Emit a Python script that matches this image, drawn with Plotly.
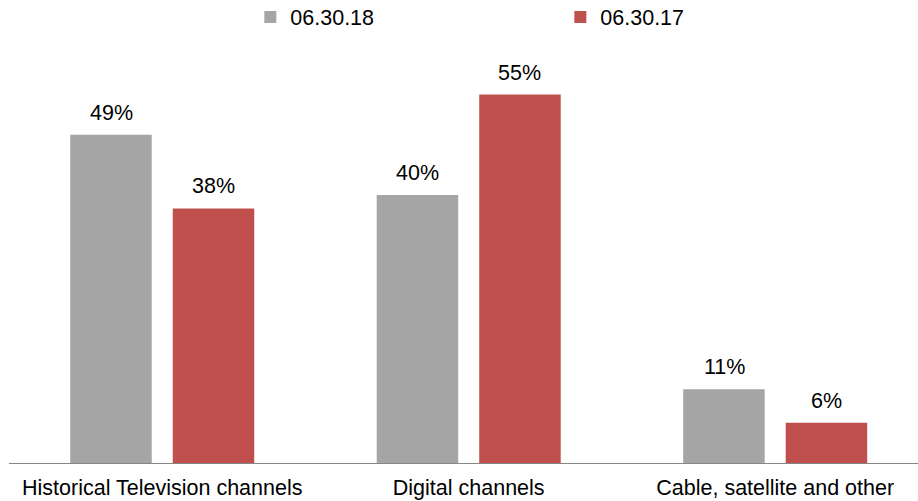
import plotly.graph_objects as go

categories = ["Historical Television channels", "Digital channels", "Cable, satellite and other"]
series_names = ["06.30.18", "06.30.17"]
values_2018 = [49, 40, 11]
values_2017 = [38, 55, 6]
colors = ["#A5A5A5", "#C0504D"]

FONT = "Liberation Sans, Arial, sans-serif"
FS = 21.5

fig = go.Figure()
for name, vals, col in zip(series_names, [values_2018, values_2017], colors):
    fig.add_trace(go.Bar(x=categories, y=vals, name=name, marker=dict(color=col, line=dict(width=0))))

# value labels
slot_px = 51
for i, (vals, sgn) in enumerate(zip([values_2018, values_2017], [-1, 1])):
    for c, v in zip(categories, vals):
        fig.add_annotation(x=c, y=v, text=f"{v}%", showarrow=False, xshift=sgn * slot_px,
                           yanchor="bottom", yshift=8, font=dict(family=FONT, size=FS, color="#000000"))

fig.update_layout(
    width=918, height=501,
    margin=dict(l=9, r=0, t=62, b=38, autoexpand=False),
    paper_bgcolor="white", plot_bgcolor="white",
    barmode="group", bargap=0.331, bargroupgap=0.205,
    font=dict(family=FONT, size=FS, color="#000000"),
    showlegend=True,
    legend=dict(orientation="h", x=0.2655, xanchor="left", y=1.112, yanchor="middle",
                entrywidth=265, entrywidthmode="pixels", font=dict(size=FS),
                bgcolor="rgba(0,0,0,0)"),
    xaxis=dict(range=[-0.5, 2.466], showline=True, linecolor="#868686", linewidth=1,
               ticks="", showgrid=False, zeroline=False, ticklabelstandoff=5, automargin=False,
               tickfont=dict(size=FS, color="#000000")),
    yaxis=dict(range=[0, 59.85], visible=False, showgrid=False, zeroline=False),
)

fig.write_html("out.html")
